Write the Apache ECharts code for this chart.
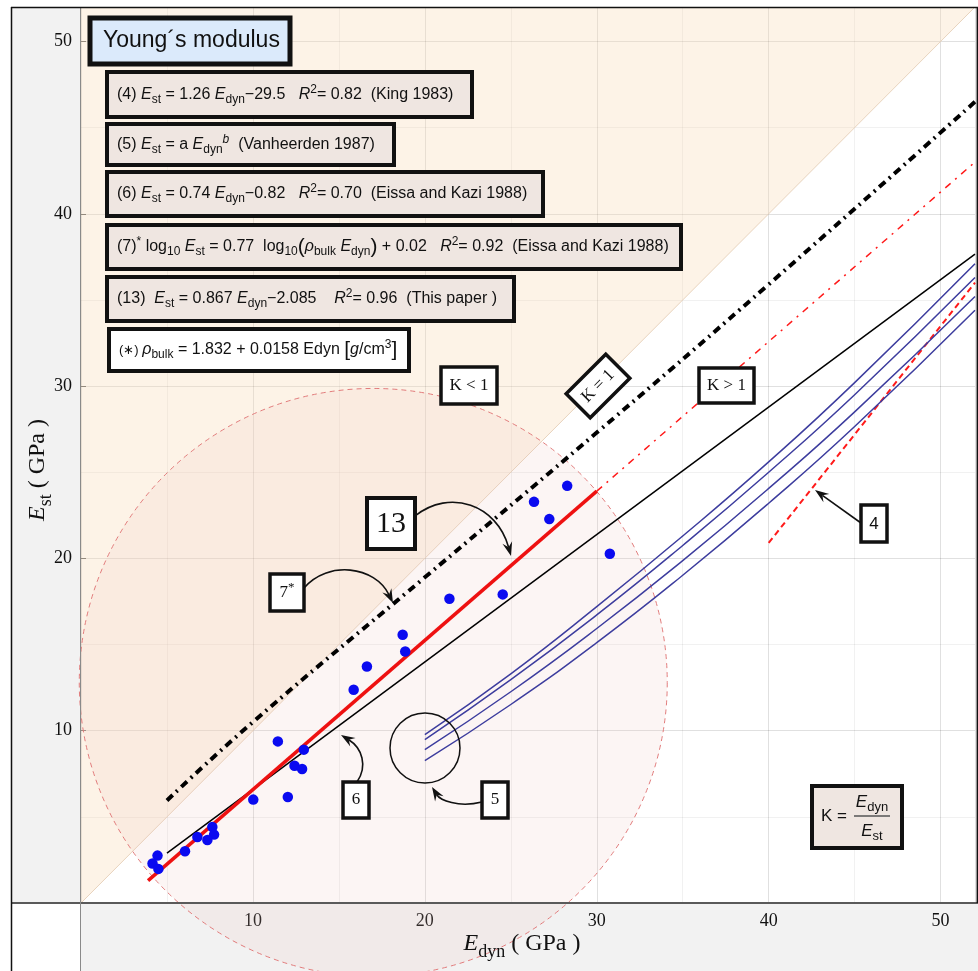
<!DOCTYPE html>
<html><head><meta charset="utf-8">
<script src="https://cdn.jsdelivr.net/npm/echarts@6.0.0/dist/echarts.min.js"></script>
<style>html,body{margin:0;padding:0;background:#fff}#c{width:978px;height:971px}</style>
</head><body><div id="c"></div>
<script>
// ---------- data ----------
const axisTicks = [10, 20, 30, 40, 50];
const measuredEdyn = [28.28,26.35,27.24,30.76,21.43,24.53,18.71,18.86,16.63,15.86,11.45,12.96,12.42,12.86,10.02,12.03,7.64,6.77,7.74,7.35,6.05,4.45,4.16,4.50];
const measuredEst  = [24.21,23.28,22.28,20.27,17.66,17.91,15.57,14.60,13.73,12.38,9.38,8.90,7.97,7.78,6.00,6.15,4.41,3.83,3.97,3.66,3.00,2.75,2.29,1.98];

const kOneEdyn = [0, 52];
const kOneEst  = [0, 52];
const eq13Edyn = [3.9, 30];
const eq13Est  = [1.3, 23.9];
const eq13ExtEdyn = [30, 52];
const eq13ExtEst  = [23.9, 43.0];
const eq6Edyn = [5, 52];
const eq6Est  = [2.9, 37.66];
const eq4Edyn = [40, 52];
const eq4Est  = [20.9, 36.0];
const eq7Edyn = [5, 10, 20, 30, 40, 52];
const eq7Est  = [5.95, 10.5, 18.9, 27.3, 35.9, 46.5];
const eq5Edyn = [20, 25, 30, 35, 40, 45, 52];
const eq5EstA = [9.77, 13.3, 17.2, 21.3, 25.6, 30.2, 37.1];
const eq5EstB = [9.48, 12.96, 16.72, 20.75, 25.0, 29.5, 36.3];
const eq5EstC = [8.90, 12.26, 15.93, 19.87, 24.06, 28.5, 35.2];
const eq5EstD = [8.26, 11.52, 15.11, 19.02, 23.2, 27.65, 34.4];
const zoneCenterEdyn = [17.0];
const zoneCenterEst  = [12.8];
const zoneRadius     = [17.1];

// ---------- helpers ----------
const pairs = (xs, ys) => xs.map((x, i) => [x, ys[i]]);
const sans = 'Liberation Sans, Arial, sans-serif';
const serif = 'Liberation Serif, Times New Roman, serif';
const INK = '#111';

function mkRich(ff, fs) {
  const lh = Math.round(fs * 1.4);
  const sub = Math.round(fs * 0.75);
  return {
    n: {fontFamily: ff, fontSize: fs, lineHeight: lh, fill: INK},
    i: {fontFamily: ff, fontSize: fs, fontStyle: 'italic', lineHeight: lh, fill: INK},
    s: {fontFamily: ff, fontSize: sub, lineHeight: sub, verticalAlign: 'bottom', fill: INK},
    p: {fontFamily: ff, fontSize: sub, lineHeight: sub, verticalAlign: 'top', fill: INK},
    pi: {fontFamily: ff, fontSize: sub, fontStyle: 'italic', lineHeight: sub, verticalAlign: 'top', fill: INK},
    L: {fontFamily: ff, fontSize: Math.round(fs * 1.3), lineHeight: lh, fill: INK},
    g: {fontFamily: ff, fontSize: fs, fontStyle: 'italic', lineHeight: lh, fill: INK},
    sm: {fontFamily: ff, fontSize: Math.round(fs * 0.8), lineHeight: lh, fill: INK}
  };
}
const richEq = mkRich(sans, 16);
const richSerif = mkRich(serif, 17);
const richAxis = mkRich(serif, 24);

function box(x, y, w, h, fill, lw) {
  return {type: 'rect', z: 100, silent: true, shape: {x, y, width: w, height: h}, style: {fill, stroke: INK, lineWidth: lw}};
}
function txt(x, y, text, rich, align, extra) {
  return {type: 'text', z: 101, silent: true, style: Object.assign({x, y, text, rich, align: align || 'left', verticalAlign: 'middle', fill: INK}, extra || {})};
}
function arrow(p) {
  const [x1, y1, c1x, c1y, c2x, c2y, x2, y2] = p;
  const dx = x2 - c2x, dy = y2 - c2y, L = Math.hypot(dx, dy);
  const ux = dx / L, uy = dy / L, nx = -uy, ny = ux;
  const len = 14, w = 5;
  const bx = x2 - ux * len, by = y2 - uy * len;
  const mx = x2 - ux * len * 0.65, my = y2 - uy * len * 0.65;
  return [
    {type: 'bezierCurve', z: 100, silent: true,
     shape: {x1, y1, cpx1: c1x, cpy1: c1y, cpx2: c2x, cpy2: c2y, x2: mx, y2: my},
     style: {stroke: INK, lineWidth: 1.6, fill: 'none'}},
    {type: 'polygon', z: 101, silent: true,
     shape: {points: [[x2, y2], [bx + nx * w, by + ny * w], [mx, my], [bx - nx * w, by - ny * w]]},
     style: {fill: INK}}
  ];
}

// ---------- annotation graphics (pixel layout) ----------
const eqFill = '#efe6e1';
const graphics = [
  // panels and frame
  {type: 'rect', z: -5, silent: true, shape: {x: 11, y: 7, width: 69, height: 896}, style: {fill: '#f2f2f2'}},
  {type: 'rect', z: -5, silent: true, shape: {x: 80, y: 903, width: 898, height: 68}, style: {fill: '#f2f2f2'}},
  {type: 'line', z: 50, silent: true, shape: {x1: 11, y1: 903, x2: 978, y2: 903}, style: {stroke: '#5a5a5a', lineWidth: 2}},
  {type: 'line', z: 50, silent: true, shape: {x1: 80.5, y1: 7, x2: 80.5, y2: 971}, style: {stroke: '#8a8a8a', lineWidth: 1}},
  {type: 'line', z: 50, silent: true, shape: {x1: 11, y1: 7.5, x2: 978, y2: 7.5}, style: {stroke: INK, lineWidth: 1.5}},
  {type: 'line', z: 50, silent: true, shape: {x1: 11.5, y1: 7, x2: 11.5, y2: 971}, style: {stroke: INK, lineWidth: 1.5}},
  {type: 'line', z: 50, silent: true, shape: {x1: 977.3, y1: 7, x2: 977.3, y2: 903}, style: {stroke: INK, lineWidth: 1.5}},

  // axis titles
  {type: 'text', z: 101, silent: true, x: 38, y: 470, rotation: Math.PI / 2,
   style: {x: 0, y: 0, text: '{i|E}{s|st}{n| ( GPa )}', rich: richAxis, align: 'center', verticalAlign: 'middle', fill: INK}},
  txt(522, 944, '{i|E}{s|dyn}{n| ( GPa )}', richAxis, 'center'),

  // title box
  box(90, 18, 200, 46, '#dbeafb', 5),
  txt(103, 41, 'Young\u00b4s modulus', null, 'left', {fontFamily: sans, fontSize: 23}),

  // equation boxes
  box(107, 72, 365, 45, eqFill, 4),
  txt(117, 94.5, '{n|(4) }{i|E}{s|st}{n| = 1.26 }{i|E}{s|dyn}{n|\u221229.5   }{i|R}{p|2}{n|= 0.82  (King 1983)}', richEq),
  box(107, 124, 287, 41, eqFill, 4),
  txt(117, 144.5, '{n|(5) }{i|E}{s|st}{n| = a }{i|E}{s|dyn}{pi|b}{n|  (Vanheerden 1987)}', richEq),
  box(107, 172, 436, 44, eqFill, 4),
  txt(117, 194, '{n|(6) }{i|E}{s|st}{n| = 0.74 }{i|E}{s|dyn}{n|\u22120.82   }{i|R}{p|2}{n|= 0.70  (Eissa and Kazi 1988)}', richEq),
  box(107, 225, 574, 44, eqFill, 4),
  txt(117, 247, '{n|(7)}{p|*}{n| log}{s|10}{n| }{i|E}{s|st}{n| = 0.77  log}{s|10}{L|(}{i|\u03c1}{s|bulk}{n| }{i|E}{s|dyn}{L|)}{n| + 0.02   }{i|R}{p|2}{n|= 0.92  (Eissa and Kazi 1988)}', richEq),
  box(107, 277, 407, 44, eqFill, 4),
  txt(117, 299, '{n|(13)  }{i|E}{s|st}{n| = 0.867 }{i|E}{s|dyn}{n|\u22122.085    }{i|R}{p|2}{n|= 0.96  (This paper )}', richEq),
  box(109, 329, 300, 42, '#ffffff', 4),
  txt(119, 350, '{sm|(\u2217) }{i|\u03c1}{s|bulk}{n| = 1.832 + 0.0158 Edyn }{L|[}{g|g}{n|/cm}{p|3}{L|]}', richEq),

  // number boxes
  box(367, 498, 48, 51, '#fff', 4),
  txt(391, 524, '13', null, 'center', {fontFamily: serif, fontSize: 30}),
  box(270, 574, 34, 37, '#fff', 3.5),
  txt(287, 593, '{n|7}{p|*}', richSerif, 'center'),
  box(343, 782, 26, 36, '#fff', 3.5),
  txt(356, 800, '6', null, 'center', {fontFamily: serif, fontSize: 17}),
  box(482, 782, 26, 36, '#fff', 3.5),
  txt(495, 800, '5', null, 'center', {fontFamily: serif, fontSize: 17}),
  box(861, 505, 26, 37, '#fff', 3.5),
  txt(874, 524, '4', null, 'center', {fontFamily: sans, fontSize: 17}),
  box(441, 367, 56, 37, '#fff', 3.5),
  txt(469, 386, 'K < 1', null, 'center', {fontFamily: serif, fontSize: 17}),
  box(699, 368, 55, 35, '#fff', 3.5),
  txt(726.5, 386, 'K > 1', null, 'center', {fontFamily: serif, fontSize: 17}),
  {type: 'group', x: 598, y: 386, rotation: Math.PI / 4, z: 100, children: [
    {type: 'rect', z: 100, silent: true, shape: {x: -28, y: -17, width: 56, height: 34}, style: {fill: '#fff', stroke: INK, lineWidth: 3.5}},
    {type: 'text', z: 101, silent: true, style: {x: 0, y: 0, text: 'K = 1', align: 'center', verticalAlign: 'middle', fontFamily: serif, fontSize: 17, fill: INK}}
  ]},

  // K formula box
  box(812, 786, 90, 62, eqFill, 4),
  txt(821, 816, 'K =', null, 'left', {fontFamily: sans, fontSize: 17}),
  txt(872, 802, '{i|E}{s|dyn}', mkRich(sans, 17), 'center'),
  {type: 'line', z: 101, silent: true, shape: {x1: 854, y1: 816, x2: 890, y2: 816}, style: {stroke: '#555', lineWidth: 1.6}},
  txt(872, 831, '{i|E}{s|st}', mkRich(sans, 17), 'center'),

  // circle around origin of curves (5)
  {type: 'circle', z: 100, silent: true, shape: {cx: 425, cy: 748, r: 35}, style: {fill: 'none', stroke: INK, lineWidth: 1.5}},

  // arrows
  ...arrow([415, 516, 450, 488, 497, 505, 511, 556]),
  ...arrow([304, 588, 328, 560, 375, 566, 393, 603]),
  ...arrow([357, 782, 368, 766, 362, 748, 341, 735]),
  ...arrow([482, 802, 458, 808, 440, 800, 432, 787]),
  ...arrow([861, 523, 861, 523, 861, 523, 815, 490])
];

// ---------- axes ----------
const tickFmt = v => (axisTicks.indexOf(v) >= 0 ? String(v) : '');
function mkAxis(isX) {
  return {
    type: 'value', min: 0, max: 52, interval: 10,
    axisLine: {show: false},
    axisTick: {show: !isX, inside: true, length: 5, lineStyle: {color: '#666'}},
    axisLabel: {formatter: tickFmt, fontFamily: serif, fontSize: 18, color: '#111', margin: 9},
    splitLine: {show: true, lineStyle: {color: 'rgba(0,0,0,0.12)', width: 1}},
    minorTick: {show: false, splitNumber: 2},
    minorSplitLine: {show: true, lineStyle: {color: 'rgba(0,0,0,0.055)', width: 1}}
  };
}

const lineBase = {type: 'line', symbol: 'none', silent: true, animation: false};

const option = {
  animation: false,
  backgroundColor: '#ffffff',
  grid: {left: 81, right: 0, top: 7, bottom: 68, containLabel: false},
  xAxis: mkAxis(true),
  yAxis: mkAxis(false),
  graphic: graphics,
  series: [
    Object.assign({}, lineBase, {
      name: 'K<1 region', z: 1, data: pairs(kOneEdyn, kOneEst),
      lineStyle: {color: '#e8d3bd', width: 1},
      areaStyle: {origin: 'end', color: 'rgba(250,216,180,0.45)'}
    }),
    {
      type: 'custom', name: 'data zone', z: 2, clip: false, silent: true,
      data: zoneCenterEdyn.map((x, i) => [x, zoneCenterEst[i], zoneRadius[i]]),
      encode: {x: 0, y: 1},
      renderItem: (params, api) => {
        const c = api.coord([api.value(0), api.value(1)]);
        const r = api.size([api.value(2), api.value(2)])[0];
        return {type: 'circle', shape: {cx: c[0], cy: c[1], r},
          style: {fill: 'rgba(235,190,185,0.16)', stroke: '#e27c7c', lineWidth: 1, lineDash: [5, 4]}};
      }
    },
    Object.assign({}, lineBase, {name: 'eq6', z: 3, data: pairs(eq6Edyn, eq6Est), lineStyle: {color: '#000', width: 1.5}}),
    Object.assign({}, lineBase, {name: 'eq4', z: 3, data: pairs(eq4Edyn, eq4Est), lineStyle: {color: '#ff1a1a', width: 2, type: [6, 4]}}),
    Object.assign({}, lineBase, {name: 'eq5a', z: 3, smooth: true, data: pairs(eq5Edyn, eq5EstA), lineStyle: {color: '#3d3d9e', width: 1.5}}),
    Object.assign({}, lineBase, {name: 'eq5b', z: 3, smooth: true, data: pairs(eq5Edyn, eq5EstB), lineStyle: {color: '#3d3d9e', width: 1.5}}),
    Object.assign({}, lineBase, {name: 'eq5c', z: 3, smooth: true, data: pairs(eq5Edyn, eq5EstC), lineStyle: {color: '#3d3d9e', width: 1.5}}),
    Object.assign({}, lineBase, {name: 'eq5d', z: 3, smooth: true, data: pairs(eq5Edyn, eq5EstD), lineStyle: {color: '#3d3d9e', width: 1.5}}),
    Object.assign({}, lineBase, {name: 'eq13 ext', z: 3, data: pairs(eq13ExtEdyn, eq13ExtEst), lineStyle: {color: '#ff1a1a', width: 1.5, type: [7, 6, 2, 6]}}),
    Object.assign({}, lineBase, {name: 'eq7', z: 4, smooth: true, data: pairs(eq7Edyn, eq7Est), lineStyle: {color: '#000', width: 4, type: [8, 5, 2, 5]}}),
    Object.assign({}, lineBase, {name: 'eq13', z: 4, data: pairs(eq13Edyn, eq13Est), lineStyle: {color: '#ee1111', width: 3.5}}),
    {type: 'scatter', name: 'measured', z: 5, silent: true, symbolSize: 10.5,
     itemStyle: {color: '#0a0af0', opacity: 1}, data: pairs(measuredEdyn, measuredEst)}
  ]
};

const chart = echarts.init(document.getElementById('c'));
chart.setOption(option);
</script>
</body></html>
